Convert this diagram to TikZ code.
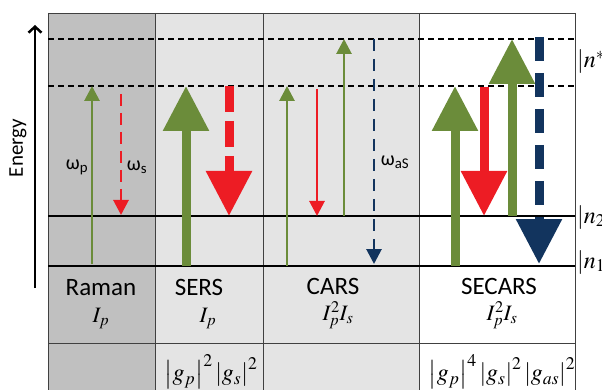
\documentclass[tikz,border=0pt]{standalone}
\usepackage{mathptmx}
\usepackage[no-math]{fontspec}
\setmainfont{Carlito}
\usetikzlibrary{arrows.meta, positioning}

\definecolor{leaf}{RGB}{107,140,58}
\definecolor{laser}{RGB}{237,28,36}
\definecolor{antistokes}{RGB}{18,52,94}
\definecolor{ramanbg}{RGB}{192,192,192}
\definecolor{enhbg}{RGB}{228,228,228}

\newcommand{\freq}[1]{ω\textsubscript{#1}}

\begin{document}
\begin{tikzpicture}[x=1pt, y=-1pt,
  rule/.style={line width=0.8pt, draw=black!75},
  bound/.style={line width=1.8pt},
  virtual/.style={line width=1.6pt, dash pattern=on 6pt off 4pt},
  slim/.style={line width=2.8pt, -{Triangle[length=15pt,width=15pt]}},
  fat/.style={line width=9pt, -{Triangle[length=45pt,width=44pt]}},
  method/.style={anchor=base, inner sep=0pt, font=\fontsize{25}{28}\selectfont},
  rate/.style={anchor=base, inner sep=0pt, font=\fontsize{22}{26}\selectfont},
  gain/.style={inner sep=0pt, font=\fontsize{24}{28}\selectfont},
  ket/.style={anchor=base west, inner sep=0pt, font=\fontsize{24}{28}\selectfont},
  freqlbl/.style={inner sep=0pt, font=\fontsize{20}{24}\selectfont}]
  \useasboundingbox (0,0) rectangle (602,390);

  \fill[ramanbg] (48,13) rectangle (155,395);
  \fill[enhbg] (155,13) rectangle (419,395);
  \foreach \x in {48,155,263,419,575}
    \draw[rule] (\x,13) -- (\x,395);
  \draw[rule] (48,13) -- (575,13);
  \draw[rule] (48,343) -- (575,343);
  \draw[virtual] (48,39) -- (575,39);
  \draw[virtual] (48,86) -- (575,86);
  \draw[bound] (48,216) -- (575,216);
  \draw[bound] (48,266) -- (575,266);

  \draw[line width=2.5pt, -{Straight Barb[length=6pt,width=13pt]}] (35,288) -- (35,25);
  \node[rotate=90, inner sep=0pt, font=\fontsize{21}{24}\selectfont] (energy) at (18,148) {Energy};

  \draw[slim, leaf] (92,264) -- (92,86);
  \draw[slim, laser, dash pattern=on 12pt off 7pt] (121,94) -- (121,215);
  \draw[fat, leaf] (186,266) -- (186,86);
  \draw[fat, laser, dash pattern=on 26pt off 9pt] (229,86) -- (229,216);
  \draw[slim, leaf] (287,266) -- (287,86);
  \draw[slim, laser] (317,89) -- (317,216);
  \draw[slim, leaf] (344,216) -- (344,39);
  \draw[slim, antistokes, dash pattern=on 12pt off 8pt] (374,39) -- (374,264);
  \draw[fat, leaf] (455,266) -- (455,86);
  \draw[fat, laser] (484,87) -- (484,216);
  \draw[fat, leaf] (512,216) -- (512,39);
  \draw[fat, antistokes, dash pattern=on 24pt off 12pt] (539,37) -- (539,264);

  \node[freqlbl] (wp) at (77,167) {\freq{p}};
  \node[freqlbl] (ws) at (137,167) {\freq{s}};
  \node[freqlbl] (was) at (395,162) {\freq{aS}};

  \node[method] (raman) at (101,295) {Raman};
  \node[method] (sers) at (199,295) {SERS};
  \node[method] (cars) at (333,294) {CARS};
  \node[method] (secars) at (499,294) {SECARS};
  \node[rate] (ramanI) at ([yshift=-27pt]raman.base) {$I_p$};
  \node[rate] (sersI) at ([xshift=9pt, yshift=-27pt]sers.base) {$I_p$};
  \node[rate] (carsI) at ([xshift=5pt, yshift=-26pt]cars.base) {$I_p^2I_s$};
  \node[rate] (secarsI) at ([xshift=3pt, yshift=-26pt]secars.base) {$I_p^2I_s$};

  \node[gain] (sersg) at (211,372) {$\left|g_p\right|^2\left|g_s\right|^2$};
  \node[gain] (secarsg) at (502,372) {$\left|g_p\right|^4\left|g_s\right|^2\left|g_{as}\right|^2$};

  \node[ket] (nstar) at (577,68) {$|n^{*}\rangle$};
  \node[ket] (ntwo) at (577,223) {$|n_2\rangle$};
  \node[ket] (none) at (577,268) {$|n_1\rangle$};
\end{tikzpicture}
\end{document}
